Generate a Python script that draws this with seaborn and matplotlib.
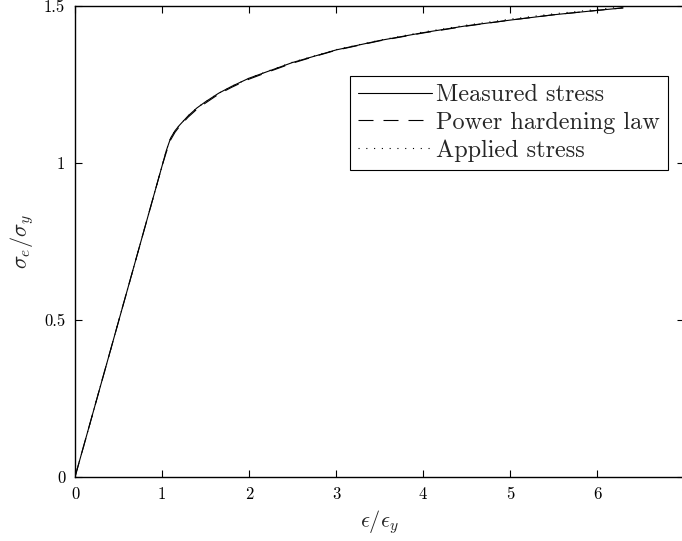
import matplotlib
matplotlib.use("Agg")
import matplotlib.pyplot as plt
import seaborn as sns
import pandas as pd

# ---- data ----
strain = [0, 1.0, 1.05, 1.1, 1.15, 1.2, 1.3, 1.4, 1.5, 1.65, 1.8, 2.0, 2.25,
          2.5, 2.75, 3.0, 3.5, 4.0, 4.5, 5.0, 5.5, 6.0, 6.3]
measured = [0, 0.99, 1.04, 1.08, 1.103, 1.12, 1.15, 1.175, 1.195, 1.222, 1.244,
            1.27, 1.295, 1.32, 1.34, 1.36, 1.39, 1.415, 1.437, 1.455, 1.472,
            1.486, 1.494]
power_law = [0, 0.99, 1.035, 1.074, 1.098, 1.116, 1.146, 1.171, 1.191, 1.219,
             1.241, 1.267, 1.293, 1.318, 1.339, 1.359, 1.389, 1.414, 1.436,
             1.455, 1.472, 1.486, 1.494]
applied = [0, 0.99, 1.04, 1.08, 1.103, 1.12, 1.15, 1.175, 1.195, 1.222, 1.244,
           1.27, 1.296, 1.321, 1.341, 1.361, 1.391, 1.417, 1.439, 1.458,
           1.475, 1.489, 1.497]
labels = ["Measured stress", "Power hardening law", "Applied stress"]
xticks = [0, 1, 2, 3, 4, 5, 6, 7]
xticklabels = ["0", "1", "2", "3", "4", "5", "6", "7"]
yticks = [0, 0.5, 1, 1.5]
yticklabels = ["0", "0.5", "1", "1.5"]

sns.set_style("ticks")
plt.rcParams["font.family"] = ["cmr10", "DejaVu Serif"]
plt.rcParams["mathtext.fontset"] = "cm"
plt.rcParams["axes.formatter.use_mathtext"] = True

fig = plt.figure(figsize=(6.82, 5.41), dpi=100)
ax = fig.add_axes([75 / 682, 1 - 477 / 541, 609 / 682, 471 / 541])

df = pd.DataFrame({"x": strain, "m": measured, "p": power_law, "a": applied})
sns.lineplot(data=df, x="x", y="m", ax=ax, color="black", lw=0.8,
             linestyle="-", label=labels[0], sort=False)
sns.lineplot(data=df, x="x", y="p", ax=ax, color="black", lw=0.8,
             linestyle=(0, (13.5, 9)), label=labels[1], sort=False)
sns.lineplot(data=df, x="x", y="a", ax=ax, color="black", lw=0.8,
             linestyle=(0, (1, 6)), label=labels[2], sort=False)

ax.set_xlim(0, 7)
ax.set_ylim(0, 1.5)
ax.set_xticks(xticks)
ax.set_xticklabels(xticklabels)
ax.set_yticks(yticks)
ax.set_yticklabels(yticklabels)
ax.tick_params(direction="in", length=5, width=0.8, top=True, right=True,
               labelsize=12, pad=7, colors="black")
for s in ax.spines.values():
    s.set_linewidth(1.0)
    s.set_color("black")

ax.set_xlabel(r"$\epsilon/\epsilon_y$", fontsize=16, labelpad=4)
ax.set_ylabel(r"$\sigma_e/\sigma_y$", fontsize=16, labelpad=6)

leg = ax.legend(loc="upper right", bbox_to_anchor=(0.974, 0.851),
                borderaxespad=0, fontsize=17.5, handlelength=3.05,
                handletextpad=0.18, labelspacing=0.22, borderpad=0.33,
                fancybox=False, framealpha=1, edgecolor="black")
leg.get_frame().set_linewidth(0.8)

fig.savefig("out.png", dpi=100)
